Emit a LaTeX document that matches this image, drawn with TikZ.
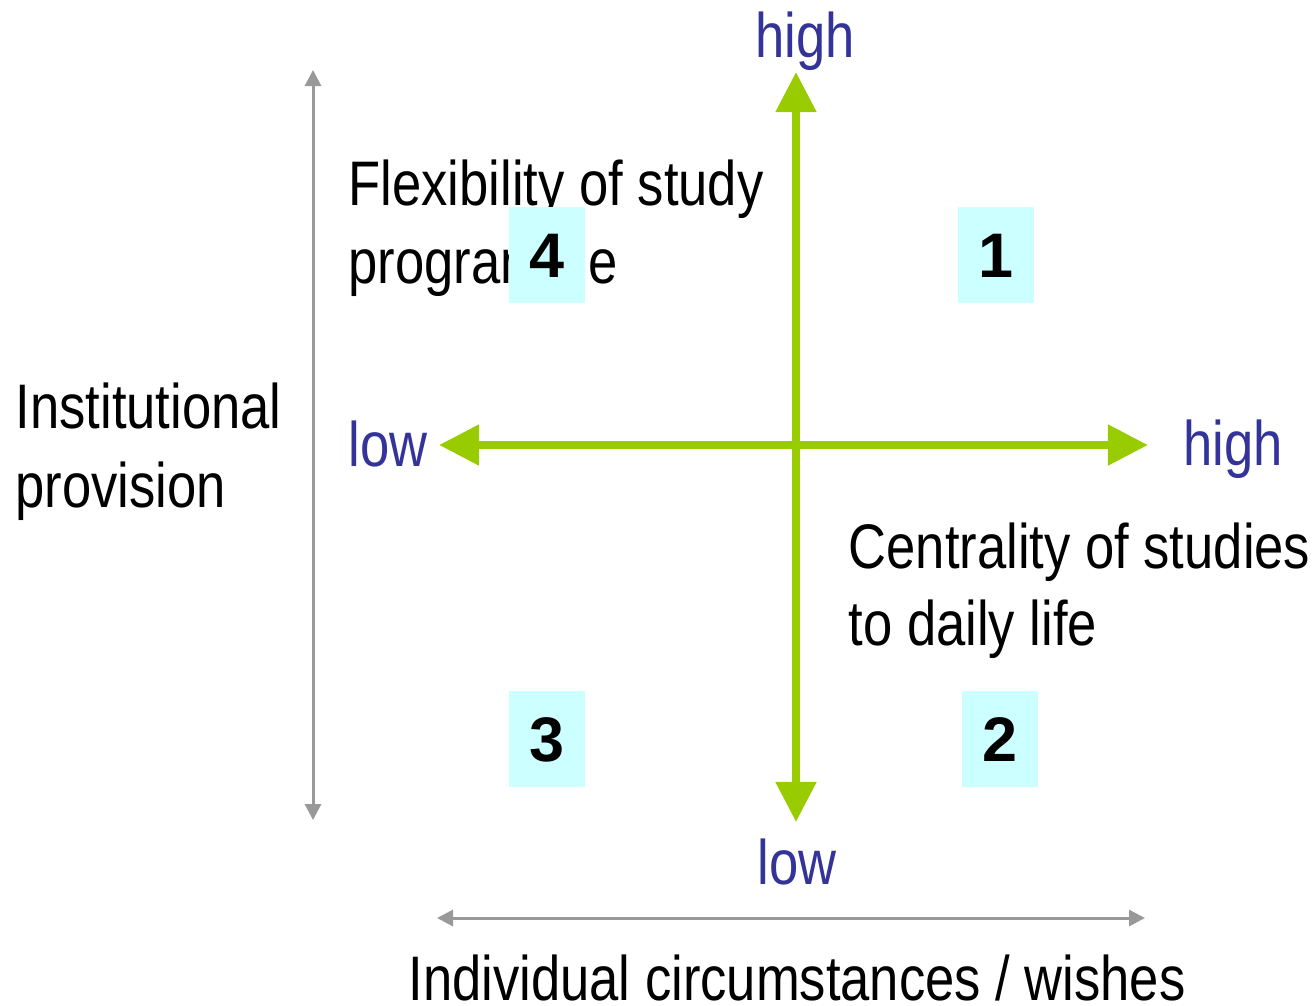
\documentclass[tikz,border=0pt]{standalone}
\usepackage{fontspec}
\setmainfont{Liberation Sans}[FakeStretch=0.835]
\newfontfamily\numfont{Liberation Sans}
\usetikzlibrary{arrows.meta}

\definecolor{axisgreen}{HTML}{99CC00}
\definecolor{levelblue}{HTML}{333399}
\definecolor{scalegrey}{HTML}{999999}
\definecolor{quadcyan}{HTML}{CCFFFF}

\begin{document}
\begin{tikzpicture}[x=0.01cm,y=-0.01cm,
    bodytext/.style={inner sep=0pt,anchor=base west,font=\fontsize{17.9pt}{22pt}\selectfont},
    leveltext/.style={bodytext,text=levelblue},
    quadbox/.style={fill=quadcyan,inner sep=0pt,minimum width=0.75cm,minimum height=0.96cm,
        text height=0.45cm,text depth=0pt,font=\numfont\bfseries\fontsize{17.9pt}{22pt}\selectfont},
    greenaxis/.style={axisgreen,line width=0.08cm,
        arrows={Triangle[length=0.4cm,width=0.39cm]-Triangle[length=0.4cm,width=0.39cm]}},
    greyscale/.style={scalegrey,line width=0.03cm,
        arrows={Triangle[length=0.16cm,width=0.16cm]-Triangle[length=0.16cm,width=0.16cm]}}]

    \useasboundingbox (0,0) rectangle (1315,1005);

    % Define the end points of the axes
    \coordinate (Ctop) at (796,72);
    \coordinate (Cbottom) at (796,822);
    \coordinate (Cleft) at (439,445);
    \coordinate (Cright) at (1148,445);
    \coordinate (Pup) at (313,70);
    \coordinate (Pdown) at (313,820);
    \coordinate (Ileft) at (437,918);
    \coordinate (Iright) at (1145,918);

    % Draw the scales
    \draw[greyscale] (Pdown) -- (Pup);
    \draw[greyscale] (Ileft) -- (Iright);

    % Draw the axes
    \draw[greenaxis] (Cbottom) -- (Ctop);
    \draw[greenaxis] (Cleft) -- (Cright);

    % Draw axis levels
    \node[leveltext,anchor=base] (hightop) at (805,57) {high};
    \node[leveltext,anchor=base] (lowbottom) at (797,884) {low};
    \node[leveltext] (lowleft) at (348,466) {low};
    \node[leveltext] (highright) at (1183,465) {high};

    % Draw the texts
    \node[bodytext] (inst1) at (15,428) {Institutional};
    \node[bodytext] (inst2) at (15,507) {provision};
    \node[bodytext] (flex1) at (348,205) {Flexibility of study};
    \node[bodytext] (flex2) at (348,283) {programme};
    \node[bodytext] (cent1) at (848,568) {Centrality of studies};
    \node[bodytext] (cent2) at (848,645) {to daily life};
    \node[bodytext,anchor=base] (indiv) at (797,1000) {Individual circumstances / wishes};

    % Draw the quadrant numbers
    \node[quadbox] (Q1) at (996,255) {1};
    \node[quadbox] (Q2) at (1000,739) {2};
    \node[quadbox] (Q3) at (547,739) {3};
    \node[quadbox] (Q4) at (547,255) {4};

\end{tikzpicture}
\end{document}
